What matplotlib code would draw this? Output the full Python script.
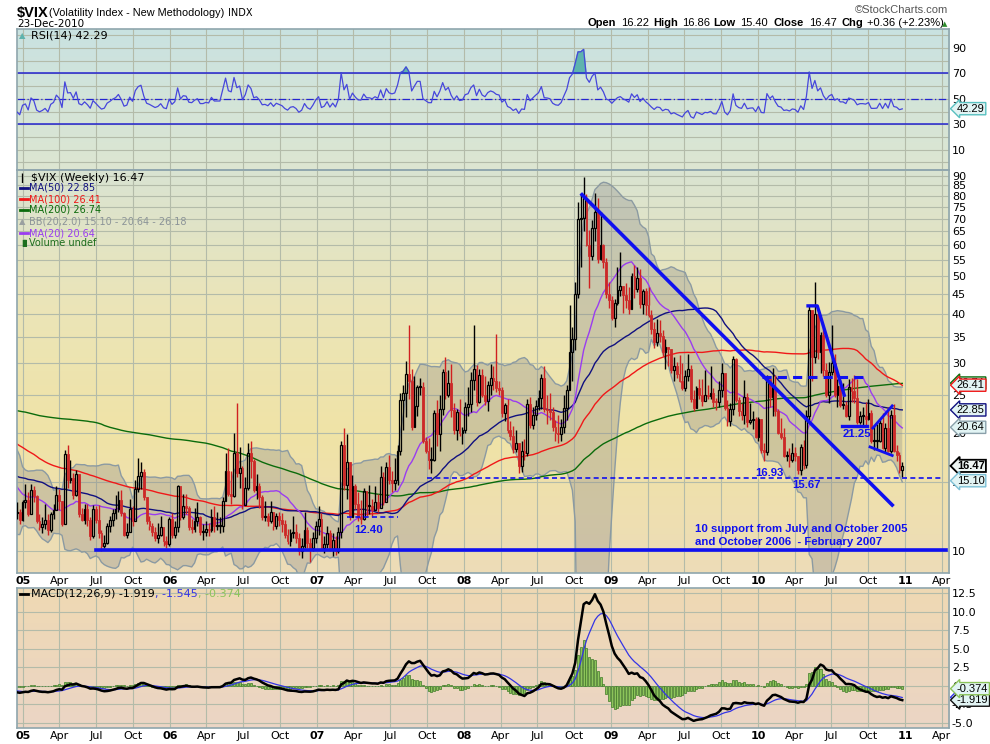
import numpy as np
import pandas as pd
import matplotlib
matplotlib.use('Agg')
import matplotlib.pyplot as plt
import matplotlib.dates as mdates
from matplotlib.colors import LinearSegmentedColormap
from matplotlib.lines import Line2D
from matplotlib.ticker import NullLocator
from matplotlib.transforms import blended_transform_factory

# weekly closes before the visible window (16-Feb-2001 .. 10-Dec-2004), only used to warm up the MAs
hist_close = [
    24.5, 27.0, 26.5, 24.0, 31.0, 33.0, 31.0, 34.0, 27.0, 24.0, 23.5, 22.0, 23.0, 21.5, 22.5, 22.0,
    20.0, 22.5, 21.5, 19.5, 23.5, 21.0, 20.5, 20.0, 19.0, 21.0, 24.0, 20.5, 25.0, 29.5, 31.8, 43.0,
    35.0, 33.5, 29.0, 31.5, 29.5, 31.0, 26.5, 24.0, 23.5, 25.0, 24.0, 25.5, 23.5, 22.0,
    # 2002
    21.5, 21.0, 24.0, 22.5, 23.5, 25.0, 23.5, 23.0, 21.5, 19.5, 18.0, 18.5, 17.5,
    19.5, 21.0, 20.0, 22.5, 21.5, 21.0, 18.5, 20.0, 21.5, 25.0, 27.0, 29.0, 28.5,
    27.0, 34.0, 40.0, 37.5, 38.0, 32.0, 30.0, 28.0, 33.0, 36.0, 35.5, 39.0, 40.5,
    41.5, 40.0, 37.0, 33.5, 31.0, 31.5, 29.5, 27.0, 26.5, 28.0, 29.5, 28.0, 30.5,
    # 2003
    26.5, 26.0, 28.5, 32.5, 31.0, 34.0, 31.5, 30.5, 31.0, 32.5, 33.5, 27.5, 29.0,
    25.5, 24.5, 23.5, 22.5, 21.0, 20.5, 19.5, 21.0, 19.5, 20.0, 20.0, 19.5, 21.0,
    21.5, 19.5, 20.5, 19.5, 21.0, 20.5, 19.5, 19.5, 19.0, 19.5, 20.0, 18.5, 22.0,
    19.5, 18.5, 17.5, 18.5, 16.5, 17.0, 17.5, 19.5, 16.5, 17.0, 17.0, 16.5, 17.5,
    # 2004
    18.0, 16.5, 15.5, 16.0, 17.0, 16.0, 15.5, 16.0, 14.5, 14.5, 18.5, 19.0, 18.0,
    16.5, 15.5, 14.5, 15.0, 17.0, 18.5, 17.5, 17.0, 15.5, 16.0, 15.0, 15.0, 14.5,
    15.0, 15.5, 15.5, 17.0, 15.5, 18.5, 19.0, 16.0, 15.0, 14.0, 13.5, 13.5, 14.5,
    14.0, 15.0, 15.5, 16.0, 16.0, 13.5, 13.0, 13.5, 13.0, 13.0, 12.5,
]

# weekly candles 17-Dec-2004 .. 23-Dec-2010 (open = previous close)
close = [
    12.6, 12.0, 13.3,
    # 2005
    13.5, 12.4, 14.3, 13.8, 11.9, 11.5, 11.7, 12.0, 11.3, 12.4, 12.7, 13.9, 13.4,
    11.7, 17.7, 15.2, 15.3, 13.9, 15.7, 12.4, 12.0, 12.8, 12.0, 10.9, 12.8, 12.0,
    11.1, 10.3, 10.5, 11.6, 12.0, 12.5, 12.8, 13.5, 12.5, 11.0, 11.2, 12.8, 11.9,
    14.4, 15.5, 15.9, 13.7, 11.9, 11.6, 11.2, 10.8, 11.0, 11.5, 10.6, 10.4, 12.1,
    # 2006
    11.0, 11.5, 14.6, 12.2, 13.0, 12.9, 11.5, 11.4, 11.9, 12.2, 11.2, 11.2, 11.4,
    11.3, 12.2, 11.6, 11.6, 11.6, 13.4, 16.0, 14.0, 13.8, 17.8, 15.8, 16.3, 13.1,
    14.5, 17.8, 16.9, 14.3, 14.6, 13.7, 12.2, 12.3, 11.9, 12.6, 11.6, 12.3, 12.0,
    11.7, 11.0, 10.6, 11.1, 11.2, 10.8, 10.0, 10.3, 11.3, 10.5, 10.2, 10.8, 11.6,
    # 2007
    12.1, 10.2, 10.4, 11.1, 10.1, 10.7, 10.0, 11.2, 18.6, 14.7, 16.8, 12.2, 14.6,
    13.2, 12.2, 12.1, 14.2, 13.0, 13.0, 12.7, 13.3, 12.9, 15.4, 13.3, 16.4, 15.2,
    14.9, 15.2, 18.0, 24.2, 25.2, 28.2, 27.0, 20.7, 23.4, 26.2, 26.2, 19.0, 18.0,
    17.0, 17.0, 22.4, 19.9, 23.0, 28.5, 25.0, 26.8, 22.9, 20.3, 22.6, 20.0, 20.3,
    # 2008
    23.2, 23.7, 27.2, 29.0, 24.0, 28.0, 25.0, 24.1, 26.5, 27.5, 27.0, 26.0, 25.7,
    22.5, 23.5, 20.3, 19.6, 18.2, 18.8, 16.5, 18.0, 17.8, 23.6, 20.9, 22.2, 23.4,
    24.5, 27.5, 23.0, 22.9, 22.6, 20.7, 20.0, 19.8, 20.7, 23.1, 25.7, 32.1, 34.7,
    45.1, 70.0, 70.3, 79.1, 59.9, 56.1, 66.3, 72.7, 55.3, 59.9, 54.3, 44.9, 43.4,
    # 2009
    39.2, 42.8, 46.1, 47.3, 44.8, 43.4, 41.3, 50.0, 46.4, 49.3, 42.4, 45.9, 42.2,
    39.7, 36.6, 33.9, 35.8, 35.3, 32.1, 33.1, 32.6, 28.9, 29.6, 28.2, 27.0, 25.9,
    27.9, 29.0, 24.3, 23.1, 25.9, 25.0, 24.1, 25.0, 24.8, 25.3, 24.0, 23.9, 25.6,
    28.3, 23.1, 21.4, 23.0, 30.7, 24.2, 22.7, 22.2, 24.7, 21.3, 21.6, 21.7, 19.5,
    # 2010
    21.7, 18.1, 17.9, 27.3, 24.6, 26.1, 22.7, 20.0, 19.5, 17.4, 17.6, 17.0, 17.8,
    17.5, 16.1, 18.4, 16.6, 22.1, 41.0, 31.2, 40.1, 32.1, 35.5, 28.8, 25.0, 28.5,
    30.1, 25.0, 26.3, 23.5, 23.5, 22.1, 26.2, 25.5, 24.5, 21.3, 22.0, 22.0, 21.7,
    22.5, 19.0, 19.0, 19.1, 21.2, 18.3, 20.6, 18.0, 22.2, 18.0, 17.6, 16.11, 16.47,
]
high = [
    13.3, 12.8, 13.5,
    14.8, 14.1, 14.8, 14.6, 13.9, 12.4, 12.2, 13.2, 12.4, 12.6, 13.2, 14.6, 14.4,
    13.4, 18.1, 18.6, 17.0, 15.8, 16.1, 15.4, 12.9, 13.2, 13.2, 12.2, 13.1, 13.0,
    13.1, 11.3, 11.0, 11.8, 12.3, 12.8, 13.9, 14.2, 14.3, 12.6, 11.8, 13.6, 13.0,
    15.2, 17.2, 16.8, 16.2, 13.6, 12.3, 11.8, 11.5, 11.8, 12.3, 11.5, 10.9, 12.2,
    12.5, 11.9, 14.7, 14.4, 14.0, 14.0, 13.0, 12.1, 12.9, 13.3, 12.3, 11.7, 11.9,
    11.8, 12.8, 13.0, 12.6, 12.2, 13.7, 17.8, 18.3, 16.0, 20.0, 23.8, 18.4, 16.5,
    15.4, 18.8, 19.0, 17.1, 15.7, 14.9, 13.9, 13.4, 12.5, 13.4, 12.6, 12.5, 12.6,
    12.5, 12.0, 11.4, 11.4, 12.3, 11.7, 11.1, 10.8, 12.6, 11.5, 10.8, 11.2, 11.9,
    13.0, 12.5, 10.9, 11.6, 11.3, 11.1, 10.9, 11.5, 19.0, 20.6, 19.9, 16.6, 15.6,
    14.8, 14.1, 13.5, 14.5, 14.0, 14.7, 13.6, 14.6, 14.0, 16.5, 15.9, 16.8, 17.6,
    16.0, 17.2, 18.6, 25.3, 26.5, 30.4, 37.5, 29.0, 27.8, 26.5, 27.6, 26.9, 19.5,
    19.4, 18.4, 22.9, 24.2, 25.0, 29.0, 31.1, 28.9, 29.9, 23.8, 23.0, 24.4, 20.7,
    24.0, 26.2, 28.5, 37.6, 29.7, 29.0, 29.0, 27.8, 27.0, 29.9, 29.5, 35.6, 27.0,
    26.2, 23.8, 24.4, 21.4, 20.8, 20.3, 18.6, 19.0, 19.3, 24.4, 24.6, 23.2, 24.2,
    25.7, 28.2, 29.6, 24.9, 25.3, 23.2, 21.5, 22.2, 21.7, 24.9, 26.4, 42.2, 37.2,
    48.4, 76.9, 81.2, 89.5, 81.0, 65.5, 69.6, 81.5, 79.1, 72.7, 60.4, 55.6, 48.3,
    44.5, 43.6, 52.6, 57.4, 46.9, 48.1, 46.9, 50.9, 53.2, 52.7, 52.1, 46.3, 46.5,
    46.8, 40.9, 38.2, 38.8, 38.7, 36.5, 34.7, 33.0, 32.5, 31.1, 30.3, 31.5, 30.0,
    28.8, 31.6, 29.8, 25.6, 26.3, 27.3, 27.3, 28.9, 26.5, 29.5, 26.0, 24.5, 27.1,
    30.1, 28.2, 24.2, 23.8, 31.3, 30.9, 24.6, 23.8, 27.2, 25.2, 23.8, 22.7, 21.9,
    21.9, 21.7, 18.8, 28.0, 27.3, 29.2, 28.0, 23.0, 21.8, 20.5, 18.0, 18.3, 18.8,
    18.4, 17.4, 18.7, 19.2, 22.8, 42.2, 36.7, 48.2, 40.3, 36.0, 37.2, 30.0, 30.2,
    37.6, 31.6, 27.4, 27.2, 26.7, 24.1, 27.4, 27.5, 28.1, 27.3, 22.7, 23.3, 24.0,
    24.3, 22.8, 20.8, 21.0, 21.6, 22.4, 21.2, 23.2, 22.8, 23.7, 18.6, 17.9, 16.86,
]
low = [
    12.1, 11.7, 11.9,
    12.9, 12.3, 12.6, 13.3, 11.8, 11.3, 11.1, 11.4, 11.0, 11.2, 12.1, 12.9, 12.7,
    11.6, 11.9, 14.5, 14.9, 13.6, 13.8, 12.2, 11.9, 11.7, 11.6, 10.7, 10.8, 11.8,
    10.8, 10.0, 10.2, 10.4, 11.2, 11.6, 12.1, 12.6, 12.3, 10.9, 10.8, 11.3, 11.6,
    11.9, 14.1, 14.4, 13.5, 11.7, 11.3, 10.9, 10.6, 10.5, 10.9, 10.3, 10.2, 10.3,
    10.8, 10.8, 11.2, 12.0, 12.1, 12.4, 11.3, 11.1, 11.2, 11.6, 11.0, 10.7, 10.9,
    10.9, 11.2, 11.2, 11.3, 11.1, 11.2, 13.6, 13.8, 13.2, 13.7, 15.4, 14.5, 12.8,
    13.1, 14.3, 15.3, 14.1, 13.6, 12.9, 12.0, 11.9, 11.6, 11.8, 11.3, 11.4, 11.6,
    11.2, 10.8, 10.4, 10.3, 10.8, 10.5, 9.8, 9.6, 10.2, 10.2, 9.4, 10.0, 10.5,
    11.0, 10.1, 9.9, 10.2, 10.0, 9.7, 9.8, 9.9, 10.8, 14.3, 13.6, 12.0, 12.4,
    12.8, 11.9, 11.7, 12.0, 12.3, 12.4, 12.2, 12.8, 12.6, 13.0, 13.1, 13.3, 14.8,
    14.1, 14.3, 14.7, 17.6, 20.3, 21.9, 24.3, 20.3, 20.8, 22.0, 24.9, 18.8, 17.8,
    16.2, 15.8, 16.9, 18.5, 18.0, 22.2, 24.3, 24.6, 21.9, 19.8, 19.2, 19.6, 18.7,
    20.0, 22.0, 22.6, 25.7, 23.4, 23.8, 24.6, 23.5, 22.7, 25.0, 25.6, 25.4, 24.9,
    21.9, 21.4, 20.0, 19.2, 17.8, 17.9, 15.8, 15.9, 17.0, 17.4, 20.6, 20.4, 21.6,
    22.9, 23.0, 22.6, 21.1, 21.6, 20.2, 19.0, 18.8, 19.0, 20.0, 21.6, 25.8, 27.0,
    32.4, 43.9, 52.6, 65.0, 59.5, 46.6, 55.0, 61.3, 54.1, 55.0, 52.5, 44.0, 41.5,
    38.6, 37.2, 42.1, 44.6, 40.2, 41.5, 40.1, 42.6, 43.9, 45.5, 41.4, 40.0, 39.8,
    39.3, 35.6, 32.8, 33.2, 34.0, 31.4, 29.0, 29.5, 28.3, 27.0, 27.5, 26.9, 25.7,
    25.5, 27.1, 24.0, 22.7, 23.5, 24.4, 23.4, 24.5, 24.3, 24.4, 23.2, 22.8, 23.3,
    24.6, 22.9, 20.8, 20.8, 22.2, 23.9, 22.1, 21.6, 21.1, 20.7, 21.0, 20.4, 19.4,
    19.0, 17.8, 16.9, 17.6, 23.3, 22.0, 22.0, 19.8, 19.3, 17.3, 16.9, 16.4, 16.8,
    16.9, 15.7, 15.6, 16.2, 16.3, 21.5, 27.1, 30.1, 30.8, 28.3, 27.9, 24.6, 23.8,
    28.0, 24.6, 23.2, 23.3, 23.0, 21.9, 21.6, 23.9, 23.8, 21.0, 21.0, 20.8, 20.9,
    21.6, 18.8, 18.1, 18.2, 18.9, 18.2, 17.9, 17.9, 17.8, 17.9, 16.9, 15.8, 15.40,
]

# legend / tag values as printed on the chart
legend_vals = {'last': 16.47, 'ma50': 22.85, 'ma100': 26.41, 'ma200': 26.74,
               'bb_lo': 15.10, 'bb_mid': 20.64, 'bb_hi': 26.18, 'rsi': 42.29,
               'macd': -1.919, 'signal': -1.545, 'hist': -0.374}

n_all = len(hist_close) + len(close)
dates = pd.date_range(end='2010-12-24', periods=n_all, freq='W-FRI')
s = pd.Series(hist_close + close, index=dates, dtype=float)

# indicators
ma = {p: s.rolling(p).mean() for p in (20, 50, 100, 200)}
sd20 = s.rolling(20).std(ddof=0)
bb_up = ma[20] + 2 * sd20
bb_lo = ma[20] - 2 * sd20
delta = s.diff()
gain = delta.clip(lower=0).ewm(alpha=1/14, adjust=False).mean()
loss = (-delta.clip(upper=0)).ewm(alpha=1/14, adjust=False).mean()
rsi = 100 - 100 / (1 + gain / loss)
macd = s.ewm(span=12, adjust=False).mean() - s.ewm(span=26, adjust=False).mean()
signal = macd.ewm(span=9, adjust=False).mean()
hist = macd - signal

xall = mdates.date2num(dates.to_pydatetime())
vis = dates >= pd.Timestamp('2004-12-10')
xv = xall[vis]

nc = len(close)
xc = xall[-nc:]
c = np.array(close)
o = s.shift(1).values[-nc:]
h = np.array(high)
l = np.array(low)

W, H = 990, 744
fig = plt.figure(figsize=(9.9, 7.44), dpi=100)
fig.patch.set_facecolor('white')


def rect(top, bottom):
    return [16.5 / W, 1 - bottom / H, (949 - 16.5) / W, (bottom - top) / H]


def background(r, colors):
    bg = fig.add_axes(r, zorder=0)
    cm = LinearSegmentedColormap.from_list('bg', colors)
    bg.imshow(np.linspace(0, 1, 256).reshape(-1, 1), cmap=cm, aspect='auto',
              extent=[0, 1, 0, 1], origin='upper')
    bg.axis('off')


r_rsi, r_main, r_macd = rect(29, 170), rect(170, 573), rect(588, 728)
background(r_rsi, ['#c9e2e1', '#dde6d1'])
background(r_main, ['#d9e3d2', '#ebe5b8', '#f0e3a6', '#eddcb8'])
background(r_macd, ['#efd9b3', '#ebd5c5'])

ax_r = fig.add_axes(r_rsi, zorder=1)
ax = fig.add_axes(r_main, zorder=1)
ax_m = fig.add_axes(r_macd, zorder=1)

grid_c = '#b3bba9'
frame_c = '#8fa6ad'
xmin = mdates.date2num(pd.Timestamp('2004-12-16').to_pydatetime())
xmax = mdates.date2num(pd.Timestamp('2011-04-19').to_pydatetime())
qticks = pd.date_range('2005-01-01', '2011-04-01', freq='QS')
qx = mdates.date2num(qticks.to_pydatetime())
qlab = [f'{d.year % 100:02d}' if d.month == 1 else d.strftime('%b') for d in qticks]

for a in (ax_r, ax, ax_m):
    a.set_facecolor('none')
    a.set_xlim(xmin, xmax)
    a.set_xticks(qx)
    a.yaxis.tick_right()
    a.tick_params(length=0, labelsize=8, pad=2)
    a.grid(True, color=grid_c, lw=0.8)
    a.set_axisbelow(True)
    for sp in a.spines.values():
        sp.set_color(frame_c)
        sp.set_linewidth(1.2)

for a in (ax, ax_m):
    a.set_xticklabels(qlab)
    for t, d in zip(a.get_xticklabels(), qticks):
        if d.month == 1:
            t.set_fontweight('bold')
ax_r.set_xticklabels([])

# ---- RSI panel
ax_r.set_ylim(-6, 105)
ax_r.set_yticks(range(0, 101, 10))
ax_r.set_yticklabels([str(v) if v in (10, 30, 50, 70, 90) else '' for v in range(0, 101, 10)])
rv = rsi.values[vis]
ax_r.plot(xv, rv, color='#4646dc', lw=0.9, zorder=3)
ax_r.fill_between(xv, 70, rv, where=rv > 70, interpolate=True, color='#5eb3ad', zorder=2)
ax_r.fill_between(xv, 30, rv, where=rv < 30, interpolate=True, color='#5eb3ad', zorder=2)
ax_r.axhline(70, color='#2424d0', lw=1.1, zorder=2)
ax_r.axhline(30, color='#2424d0', lw=1.1, zorder=2)
ax_r.axhline(50, color='#2424d0', lw=0.9, ls=(0, (6, 2, 1, 2)), zorder=2)

# ---- main panel
ax.set_yscale('log')
ax.set_ylim(8.8, 93)
yt = [10, 15, 20, 25, 30, 35, 40, 45, 50, 55, 60, 65, 70, 75, 80, 85, 90]
ax.set_yticks(yt)
ax.set_yticklabels([str(v) for v in yt])
ax.yaxis.set_minor_locator(NullLocator())

ax.fill_between(xv, np.clip(bb_lo.values[vis], 1, None), bb_up.values[vis],
                color='#8a8a8a', alpha=0.33, lw=0, zorder=1.5)
ax.plot(xv, bb_up.values[vis], color='#8b9aa2', lw=1, zorder=1.6)
ax.plot(xv, np.clip(bb_lo.values[vis], 1, None), color='#8b9aa2', lw=1, zorder=1.6)
ax.plot(xv, ma[200].values[vis], color='#0b6b0b', lw=1, zorder=2)
ax.plot(xv, ma[100].values[vis], color='#f01818', lw=1, zorder=2)
ax.plot(xv, ma[50].values[vis], color='#101080', lw=1, zorder=2)
ax.plot(xv, ma[20].values[vis], color='#9a3cf0', lw=1, zorder=2)

# candles
up = c >= o
b_lo = np.minimum(o, c)
b_hi = np.maximum(np.maximum(o, c), b_lo * 1.006)
w_hi = np.maximum(h, b_hi)
w_lo = np.minimum(l, b_lo)
for mask, col in ((up, 'black'), (~up, '#d02020')):
    ax.vlines(xc[mask], b_hi[mask], w_hi[mask], color=col, lw=1, zorder=3)
    ax.vlines(xc[mask], w_lo[mask], b_lo[mask], color=col, lw=1, zorder=3)
ax.bar(xc[up], (b_hi - b_lo)[up], bottom=b_lo[up], width=4.5, facecolor='none',
       edgecolor='black', lw=0.9, zorder=3.1)
ax.bar(xc[~up], (b_hi - b_lo)[~up], bottom=b_lo[~up], width=4.5, facecolor='#cc2828',
       edgecolor='#cc2828', lw=0.6, zorder=3.1)


def d(s_):
    return mdates.date2num(pd.Timestamp(s_).to_pydatetime())


blue = '#1010f0'
ax.plot([d('2008-10-20'), d('2010-11-29')], [80.5, 13.1], color=blue, lw=2.6, zorder=4)
ax.plot([d('2005-07-01'), d('2011-04-12')], [10.05, 10.05], color=blue, lw=2.6, zorder=4)
ax.plot([d('2007-03-16'), d('2007-07-20')], [12.2, 12.2], color=blue, lw=1.2, ls=(0, (3, 2)), zorder=4)
ax.plot([d('2007-09-30'), d('2011-04-05')], [15.3, 15.3], color=blue, lw=1.2, ls=(0, (3, 2)), zorder=4)
ax.plot([d('2010-01-10'), d('2010-09-27')], [27.7, 27.7], color=blue, lw=2.2, ls=(0, (3, 2)), zorder=4)
ax.plot([d('2010-05-04'), d('2010-05-27'), d('2010-08-02')], [42.0, 42.0, 24.9], color=blue, lw=2.4, zorder=4)
ax.plot([d('2010-07-28'), d('2010-09-27')], [20.8, 20.8], color=blue, lw=2.4, zorder=4)
ax.plot([d('2010-10-12'), d('2010-11-29')], [20.55, 23.4], color=blue, lw=2.0, zorder=4)
ax.plot([d('2010-10-05'), d('2010-11-29')], [18.4, 17.5], color=blue, lw=2.0, zorder=4)

af = dict(color=blue, fontsize=8.2, fontweight='bold', family='Liberation Sans', zorder=5)
ax.text(d('2007-05-08'), 11.3, '12.40', ha='center', va='center', **af)
ax.text(d('2010-01-29'), 15.8, '16.93', ha='center', va='center', **af)
ax.text(d('2010-05-01'), 14.7, '15.67', ha='center', va='center', **af)
ax.text(d('2010-09-02'), 19.8, '21.25', ha='center', va='center', **af)
ax.text(d('2009-07-28'), 11.4, '10 support from July and October 2005', ha='left', va='center', **af)
ax.text(d('2009-07-28'), 10.55, 'and October 2006  - February 2007', ha='left', va='center', **af)

# ---- MACD panel
ax_m.set_ylim(-5.67, 13.17)
mt = np.arange(-5, 12.6, 2.5)
ax_m.set_yticks(mt)
ax_m.set_yticklabels([f'{v:.1f}' for v in mt])
ax_m.bar(xv, hist.values[vis], width=5, color='#8cc45a', edgecolor='#3e7a26', lw=0.5, zorder=2)
ax_m.plot(xv, signal.values[vis], color='#3434e6', lw=0.9, zorder=3)
ax_m.plot(xv, macd.values[vis], color='black', lw=1.8, zorder=4)


# ---- value tags on the right
def tag(a, val, txt, ec, fc='#e2f4f4', bold=False, lw=1.0):
    tr = blended_transform_factory(a.transAxes, a.transData)
    a.text(1.0085, val, txt, transform=tr, fontsize=8, va='center', ha='left',
           family='Liberation Sans', fontweight='bold' if bold else 'normal',
           clip_on=False, zorder=10,
           bbox=dict(boxstyle='larrow,pad=0.1', fc=fc, ec=ec, lw=lw))


tag(ax_r, legend_vals['rsi'], f"{legend_vals['rsi']:.2f}", '#58c0c0')
tag(ax, legend_vals['ma200'], f"{legend_vals['ma200']:.2f}", '#0b6b0b')
tag(ax, legend_vals['ma100'], f"{legend_vals['ma100']:.2f}", '#f01818')
tag(ax, legend_vals['ma50'], f"{legend_vals['ma50']:.2f}", '#101080')
tag(ax, legend_vals['bb_mid'], f"{legend_vals['bb_mid']:.2f}", '#8aa0aa')
tag(ax, legend_vals['last'], f"{legend_vals['last']:.2f}", 'black', fc='#eef6f4', bold=True, lw=1.3)
tag(ax, legend_vals['bb_lo'], f"{legend_vals['bb_lo']:.2f}", '#7cc0d6')
tag(ax_m, legend_vals['signal'], f"{legend_vals['signal']:.3f}", '#3434e6')
tag(ax_m, legend_vals['macd'], f"{legend_vals['macd']:.3f}", '#101010')
tag(ax_m, legend_vals['hist'], f"{legend_vals['hist']:.3f}", '#8cc45a')


# ---- header and legends (figure pixels)
def ft(x, y, txt, **kw):
    kw.setdefault('va', 'center')
    return fig.text(x / W, 1 - y / H, txt, **kw)


def fl(x0, x1, y, col, lw=2):
    fig.add_artist(Line2D([x0 / W, x1 / W], [1 - y / H, 1 - y / H], color=col, lw=lw,
                          transform=fig.transFigure))


ft(17, 13, '$VIX', fontsize=10.5, fontweight='bold', family='Liberation Sans')
ft(49, 13, '(Volatility Index - New Methodology)', fontsize=7.8, family='Liberation Sans')
ft(228, 13, 'INDX', fontsize=7, family='DejaVu Sans')
ft(17, 24, '23-Dec-2010', fontsize=7.5, family='DejaVu Sans')
ft(948, 10, '\u00a9StockCharts.com', fontsize=8, color='#555555', ha='right', family='Liberation Sans')
hdr = [(588, 'Open', True), (621, '16.22', False), (653, 'High', True), (682, '16.86', False),
       (713, 'Low', True), (740, '15.40', False), (773, 'Close', True), (809, '16.47', False),
       (842, 'Chg', True), (867, '+0.36 (+2.23%)', False)]
for x, t, b in hdr:
    ft(x, 23, t, fontsize=8, fontweight='bold' if b else 'normal', family='Liberation Sans')
ft(945, 24, '\u25b2', fontsize=5, color='#2c8a2c', ha='center')

lf = dict(fontsize=7, family='DejaVu Sans')
ft(19, 36, '\u25b2', fontsize=6, color='#5eb3ad')
ft(31, 36, f"RSI(14) {legend_vals['rsi']:.2f}", fontsize=8, family='DejaVu Sans')

ft(19, 178, '\u2503', fontsize=6)
ft(31, 178, f"$VIX (Weekly) {legend_vals['last']:.2f}", fontsize=8, family='DejaVu Sans')
leg = [(188, f"MA(50) {legend_vals['ma50']:.2f}", '#101080'),
       (199, f"MA(100) {legend_vals['ma100']:.2f}", '#f01818'),
       (210, f"MA(200) {legend_vals['ma200']:.2f}", '#0b6b0b'),
       (233, f"MA(20) {legend_vals['bb_mid']:.2f}", '#9a3cf0')]
for y, t, col in leg:
    fl(20, 28, y, col)
    ft(29, y, t, color=col, **lf)
ft(19, 222, '\u25b2', fontsize=6, color='#9aa0a0')
ft(29, 222, f"BB(20,2.0) {legend_vals['bb_lo']:.2f} - {legend_vals['bb_mid']:.2f} - {legend_vals['bb_hi']:.2f}",
   color='#8c9498', **lf)
ft(19, 243, '\u2590\u258c', fontsize=5, color='#1e6e1e')
ft(29, 243, 'Volume undef', color='#1e6e1e', **lf)

fl(20, 28, 594, 'black')
x0 = 31
for t, col in ((f"MACD(12,26,9) {legend_vals['macd']:.3f}", 'black'),
               (f", {legend_vals['signal']:.3f}", '#3434e6'),
               (f", {legend_vals['hist']:.3f}", '#8cc45a')):
    txt = ft(x0, 594, t, color=col, fontsize=8, family='DejaVu Sans')
    fig.canvas.draw()
    x0 += txt.get_window_extent().width

fig.savefig('out.png', dpi=100)
